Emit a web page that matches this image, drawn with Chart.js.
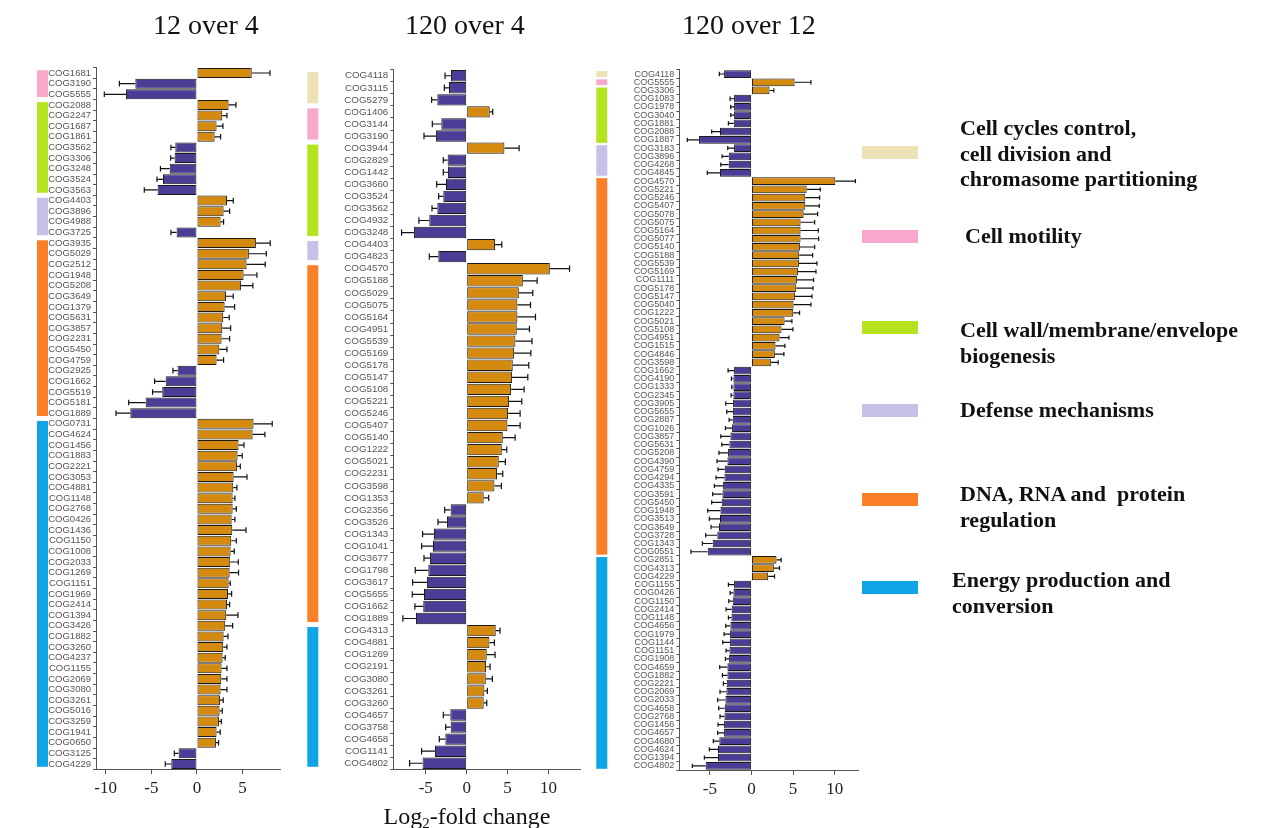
<!DOCTYPE html>
<html>
<head>
<meta charset="utf-8">
<script src="https://cdn.jsdelivr.net/npm/chart.js@4.4.0/dist/chart.umd.min.js"></script>
<style>
  body { margin: 0; width: 1263px; height: 828px; background: #fff; position: relative; overflow: hidden; font-family: 'Liberation Serif', serif; color: #111; }
  canvas { position: absolute; top: 0; }
  .title { position: absolute; top: 9px; font-size: 28px; line-height: 32px; transform: translateX(-50%); white-space: nowrap; }
  .xlabel { position: absolute; top: 801px; left: 467px; font-size: 24px; line-height: 30px; transform: translateX(-50%); white-space: nowrap; }
  .xlabel sub { font-size: 15px; vertical-align: -4px; }
  .key { position: absolute; left: 862px; width: 56px; height: 13px; }
  .ktext { position: absolute; font-weight: bold; font-size: 22px; line-height: 25.5px; white-space: pre; }
</style>
</head>
<body>
<canvas id="p1" width="290" height="828" style="left:0px"></canvas>
<canvas id="p2" width="290" height="828" style="left:300px"></canvas>
<canvas id="p3" width="280" height="828" style="left:590px"></canvas>

<div class="title" style="left:206px">12 over 4</div>
<div class="title" style="left:465px">120 over 4</div>
<div class="title" style="left:749px">120 over 12</div>
<div class="xlabel">Log<sub>2</sub>-fold change</div>

<div class="key" style="top:146px;background:#ECE2B6"></div>
<div class="ktext" style="left:960px;top:115px">Cell cycles control,
cell division and
chromasome partitioning</div>
<div class="key" style="top:230px;background:#F8A8CA"></div>
<div class="ktext" style="left:965px;top:223px">Cell motility</div>
<div class="key" style="top:321px;background:#B5E31F"></div>
<div class="ktext" style="left:960px;top:317px">Cell wall/membrane/envelope
biogenesis</div>
<div class="key" style="top:404px;background:#C8C0E6"></div>
<div class="ktext" style="left:960px;top:397px">Defense mechanisms</div>
<div class="key" style="top:493px;background:#FA7F26"></div>
<div class="ktext" style="left:960px;top:481px">DNA, RNA and  protein
regulation</div>
<div class="key" style="top:581px;background:#0EA4E6"></div>
<div class="ktext" style="left:952px;top:567px">Energy production and
conversion</div>

<script>
// COG functional groups (order of the coloured strips)
const groupNames = ['Cell cycles control', 'Cell motility', 'Cell wall/membrane/envelope biogenesis',
  'Defense mechanisms', 'DNA, RNA and protein regulation', 'Energy production and conversion'];
const groupColors = ['#ECE2B6', '#F8A8CA', '#B5E31F', '#C8C0E6', '#FA7F26', '#0EA4E6'];

// 12 over 4
const labels1 = ['COG1681','COG3190','COG5555','COG2088','COG2247','COG1687','COG1861','COG3562','COG3306','COG3248',
  'COG3524','COG3563','COG4403','COG3896','COG4988','COG3725','COG3935','COG5029','COG2512','COG1948',
  'COG5208','COG3649','COG1379','COG5631','COG3857','COG2231','COG5450','COG4759','COG2925','COG1662',
  'COG5519','COG5181','COG1889','COG0731','COG4624','COG1456','COG1883','COG2221','COG3053','COG4881',
  'COG1148','COG2768','COG0426','COG1436','COG1150','COG1008','COG2033','COG1269','COG1151','COG1969',
  'COG2414','COG1394','COG3426','COG1882','COG3260','COG4237','COG1155','COG2069','COG3080','COG3261',
  'COG5016','COG3259','COG1941','COG0650','COG3125','COG4229'];
const values1 = [6.0,-6.75,-7.78,3.47,2.77,2.15,1.94,-2.37,-2.45,-2.99,
  -3.72,-4.31,3.29,2.92,2.59,-2.23,6.46,5.69,5.44,5.11,
  4.82,3.18,3.03,2.88,2.77,2.7,2.45,2.15,-2.12,-3.43,
  -3.8,-5.62,-7.3,6.2,6.1,4.56,4.45,4.38,4.02,3.98,
  3.91,3.91,3.8,3.87,3.76,3.69,3.65,3.58,3.47,3.4,
  3.29,3.21,3.1,2.92,2.88,2.81,2.7,2.67,2.59,2.52,
  2.48,2.41,2.15,2.08,-2.01,-2.81];
const errors1 = [2.0,1.75,2.37,0.8,0.52,0.7,0.65,0.48,0.43,1.01,
  0.66,1.46,0.69,0.66,0.33,0.62,1.57,1.91,2.04,1.46,
  1.31,0.8,1.1,0.66,0.92,0.88,0.84,0.77,0.51,1.21,
  1.06,1.86,1.57,2.05,1.35,0.59,0.51,0.37,1.46,0.4,
  0.25,0.4,0.36,1.5,0.55,0.4,0.88,0.98,0.18,0.4,
  0.29,1.28,0.81,0.48,0.41,0.29,0.59,0.62,0.7,0.36,
  0.29,0.26,0.4,0.29,0.47,0.66];
const groups1 = [0, 3, 9, 4, 17, 33];

// 120 over 4
const labels2 = ['COG4118','COG3115','COG5279','COG1406','COG3144','COG3190','COG3944','COG2829','COG1442','COG3660',
  'COG3524','COG3562','COG4932','COG3248','COG4403','COG4823','COG4570','COG5188','COG5029','COG5075',
  'COG5164','COG4951','COG5539','COG5169','COG5178','COG5147','COG5108','COG5221','COG5246','COG5407',
  'COG5140','COG1222','COG5021','COG2231','COG3598','COG1353','COG2356','COG3526','COG1343','COG1041',
  'COG3677','COG1798','COG3617','COG5655','COG1662','COG1889','COG4313','COG4881','COG1269','COG2191',
  'COG3080','COG3261','COG3260','COG4657','COG3758','COG4658','COG1141','COG4802'];
const values2 = [-1.92,-2.16,-3.59,2.82,-3.1,-3.76,4.61,-2.33,-2.29,-2.53,
  -2.86,-3.59,-4.57,-6.45,3.47,-3.47,10.16,6.86,6.37,6.2,
  6.2,6.12,5.96,5.8,5.63,5.55,5.43,5.18,5.06,4.98,
  4.41,4.29,3.92,3.71,3.39,2.08,-1.96,-2.41,-4.0,-4.12,
  -4.49,-4.69,-4.86,-5.22,-5.31,-6.2,3.55,2.78,2.45,2.37,
  2.33,2.16,2.08,-2.0,-1.96,-2.61,-3.88,-5.39];
const errors2 = [0.73,0.57,0.7,0.36,1.1,1.46,1.8,0.53,0.57,1.14,
  0.57,0.65,1.27,1.51,0.82,1.1,2.41,1.75,1.71,1.6,
  2.21,1.55,2.02,2.04,1.96,1.92,1.59,1.55,1.47,1.55,
  1.51,0.61,0.81,0.7,0.85,0.61,0.73,1.1,1.39,1.39,
  0.73,1.6,1.75,1.43,1.02,1.6,0.53,0.61,1.02,0.49,
  0.81,0.37,0.37,0.86,0.61,0.74,1.63,1.59];
const groups2 = [3, 3, 8, 2, 30, 12];

// 120 over 12
const labels3 = ['COG4118','COG5555','COG3306','COG1083','COG1978','COG3040','COG1881','COG2088','COG1887','COG3183',
  'COG3896','COG4268','COG4845','COG4570','COG5221','COG5246','COG5407','COG5078','COG5075','COG5164',
  'COG5077','COG5140','COG5188','COG5539','COG5169','COG1111','COG5178','COG5147','COG5040','COG1222',
  'COG5021','COG5108','COG4951','COG1515','COG4846','COG3598','COG1662','COG4190','COG1333','COG2345',
  'COG3905','COG5655','COG2887','COG1026','COG3857','COG5631','COG5208','COG4390','COG4759','COG4294',
  'COG4335','COG3591','COG5450','COG1948','COG3513','COG3649','COG3728','COG1343','COG0551','COG2851',
  'COG4313','COG4229','COG1155','COG0426','COG1150','COG2414','COG1148','COG4656','COG1979','COG1144',
  'COG1151','COG1908','COG4659','COG1882','COG2221','COG2069','COG2033','COG4658','COG2768','COG1456',
  'COG4657','COG4680','COG4624','COG1394','COG4802'];
const values3 = [-3.29,5.18,2.17,-2.09,-2.09,-2.09,-2.13,-3.78,-6.31,-2.09,
  -2.73,-2.73,-3.78,10.08,6.63,6.47,6.47,6.27,5.9,5.9,
  5.9,5.82,5.74,5.7,5.58,5.46,5.38,5.22,5.06,5.02,
  3.98,3.61,3.37,2.89,2.81,2.33,-2.09,-2.17,-2.17,-2.17,
  -2.21,-2.21,-2.25,-2.33,-2.53,-2.65,-2.81,-2.89,-3.21,-3.25,
  -3.41,-3.49,-3.57,-3.73,-3.78,-3.9,-4.1,-4.66,-5.26,3.01,
  2.69,2.01,-2.09,-2.17,-2.25,-2.37,-2.41,-2.53,-2.57,-2.57,
  -2.65,-2.69,-2.89,-2.89,-2.97,-3.01,-3.13,-3.21,-3.25,-3.29,
  -3.29,-3.86,-4.02,-4.02,-5.5];
const errors3 = [0.57,1.97,0.52,0.48,0.4,0.4,0.64,1.0,1.4,0.76,
  0.8,0.96,1.52,2.41,1.64,1.72,1.68,1.68,1.69,2.13,
  2.17,1.77,1.61,2.17,2.17,2.01,2.01,2.05,2.09,0.76,
  0.88,1.37,1.13,1.13,1.09,0.88,0.72,0.24,0.2,0.28,
  0.88,0.76,0.44,0.8,1.16,0.92,1.09,1.25,0.81,1.01,
  1.05,1.17,1.21,1.53,1.28,0.96,1.4,1.24,2.01,0.56,
  0.68,0.76,0.68,0.4,0.48,0.68,0.36,0.56,0.72,0.88,
  0.4,0.44,0.93,0.6,0.4,0.77,0.93,0.73,0.53,0.73,
  0.77,0.72,1.04,1.64,1.61];
const groups3 = [1, 1, 7, 4, 46, 26];

const upColor = '#D4890F';
const downColor = '#4B3C96';

// coloured group strips left of the labels
const stripPlugin = {
  id: 'strips',
  afterDraw(chart, args, opts) {
    const y = chart.scales.y, ctx = chart.ctx;
    const counts = chart.data.datasets[0].groups;
    const step = y.getPixelForValue(1) - y.getPixelForValue(0);
    let start = 0;
    ctx.save();
    counts.forEach((n, i) => {
      if (n > 0) {
        const top = y.getPixelForValue(start) - step / 2 + opts.inset;
        const bottom = y.getPixelForValue(start + n - 1) + step / 2 - opts.inset;
        ctx.fillStyle = groupColors[i];
        ctx.fillRect(chart.chartArea.left - opts.offset, top, opts.width, bottom - top);
      }
      start += n;
    });
    ctx.restore();
  }
};

// one-sided error bars with a cap
const errorBarPlugin = {
  id: 'errorBars',
  afterDatasetsDraw(chart) {
    const ctx = chart.ctx, x = chart.scales.x;
    const ds = chart.data.datasets[0];
    const meta = chart.getDatasetMeta(0);
    ctx.save();
    ctx.strokeStyle = '#111';
    ctx.lineWidth = 1.2;
    meta.data.forEach((bar, i) => {
      const v = ds.data[i];
      const end = x.getPixelForValue(v + Math.sign(v) * ds.errors[i]);
      const cap = bar.height * 0.28;
      ctx.beginPath();
      ctx.moveTo(bar.x, bar.y);
      ctx.lineTo(end, bar.y);
      ctx.moveTo(end, bar.y - cap);
      ctx.lineTo(end, bar.y + cap);
      ctx.stroke();
    });
    ctx.restore();
  }
};

function makePanel(id, labels, values, errors, groups, cfg) {
  return new Chart(document.getElementById(id), {
    type: 'bar',
    data: {
      labels: labels,
      datasets: [{
        data: values,
        errors: errors,
        groups: groups,
        backgroundColor: values.map(v => v >= 0 ? upColor : downColor),
        borderColor: '#1a1a1a',
        borderWidth: 1,
        borderSkipped: false,
        barPercentage: 0.94,
        categoryPercentage: 1
      }]
    },
    options: {
      indexAxis: 'y',
      responsive: false,
      animation: false,
      layout: { padding: { top: cfg.top, bottom: cfg.bottom, left: 0, right: cfg.right } },
      plugins: {
        legend: { display: false },
        tooltip: { enabled: false },
        strips: { offset: cfg.stripOffset, width: 11, inset: cfg.inset }
      },
      scales: {
        x: {
          min: cfg.min,
          max: cfg.max,
          ticks: { stepSize: 5, includeBounds: false, color: '#222', padding: 4,
            font: { family: 'Liberation Serif', size: 17 } },
          grid: { drawOnChartArea: false, tickLength: 5, tickColor: '#555' },
          border: { color: '#555' },
          afterFit: s => { s.height = 40; }
        },
        y: {
          ticks: { autoSkip: false, color: '#555', padding: 2,
            font: { family: 'Liberation Sans', size: cfg.fontSize } },
          grid: { drawOnChartArea: false, tickLength: 3, tickColor: '#555' },
          border: { color: '#555' },
          afterFit: s => { s.width = cfg.yWidth; }
        }
      }
    },
    plugins: [stripPlugin, errorBarPlugin]
  });
}

makePanel('p1', labels1, values1, errors1, groups1,
  { min: -11.06, max: 9.1, top: 67.7, bottom: 18.7, right: 10, yWidth: 96, fontSize: 9.5, stripOffset: 59, inset: 2.5 });
makePanel('p2', labels2, values2, errors2, groups2,
  { min: -8.97, max: 13.85, top: 69.7, bottom: 18.7, right: 10, yWidth: 93.3, fontSize: 9.8, stripOffset: 86, inset: 2.5 });
makePanel('p3', labels3, values3, errors3, groups3,
  { min: -8.67, max: 12.8, top: 69.9, bottom: 18, right: 12, yWidth: 89.3, fontSize: 9, stripOffset: 83, inset: 1.2 });
</script>
</body>
</html>
